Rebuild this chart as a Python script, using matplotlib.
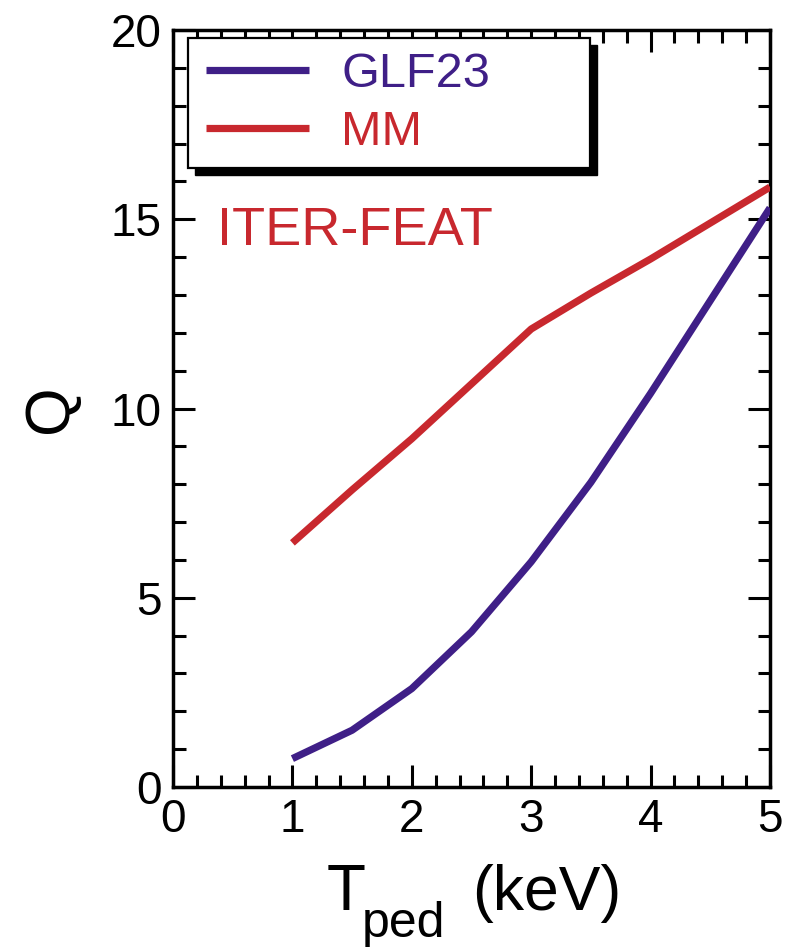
import matplotlib
matplotlib.use("Agg")
import matplotlib.pyplot as plt
from matplotlib.ticker import MultipleLocator
from matplotlib.patches import Rectangle

plt.rcParams['font.family'] = ['Liberation Sans', 'DejaVu Sans']

T_ped = [1.0, 1.5, 2.0, 2.5, 3.0, 3.5, 4.0, 4.5, 5.0]
Q_glf23 = [0.75, 1.5, 2.6, 4.1, 5.95, 8.05, 10.4, 12.85, 15.3]
Q_mm = [6.45, 7.85, 9.2, 10.65, 12.1, 13.05, 13.95, 14.9, 15.85]

col_glf = '#3f1f87'
col_mm = '#c8282e'

W, H = 786, 949
fig = plt.figure(figsize=(W/100, H/100), dpi=100)
L, R, T, B = 173, 770, 30, 787
ax = fig.add_axes([L/W, 1 - B/H, (R-L)/W, (B-T)/H])

ax.plot(T_ped, Q_glf23, color=col_glf, lw=5.2, label='GLF23', solid_capstyle='butt', zorder=3)
ax.plot(T_ped, Q_mm, color=col_mm, lw=5.2, label='MM', solid_capstyle='butt', zorder=3)

ax.set_xlim(0, 5)
ax.set_ylim(0, 20)
ax.xaxis.set_major_locator(MultipleLocator(1))
ax.xaxis.set_minor_locator(MultipleLocator(0.2))
ax.yaxis.set_major_locator(MultipleLocator(5))
ax.yaxis.set_minor_locator(MultipleLocator(1))
ax.tick_params(which='both', direction='in', top=True, right=True, width=2.2)
ax.tick_params(which='major', length=16, labelsize=33, pad=8)
ax.tick_params(which='minor', length=9)
for s in ax.spines.values():
    s.set_linewidth(2.5)

ax.set_ylabel('Q', fontsize=45, labelpad=22)

# x-axis label built from pieces (T with lowered subscript)
fig.text(327/W, 1 - 910/H, 'T', fontsize=46, ha='left', va='baseline')
fig.text(362/W, 1 - 937/H, 'ped', fontsize=36, ha='left', va='baseline')
fig.text(472/W, 1 - 910/H, '(keV)', fontsize=45, ha='left', va='baseline')

# legend frame with shadow
pw, ph = R - L, B - T
x0 = (188 - L) / pw
x1 = (590 - L) / pw
y1 = (B - 38) / ph
y0 = (B - 168) / ph
dx, dy = 7 / pw, 7 / ph
ax.add_patch(Rectangle((x0 + dx, y0 - dy), x1 - x0, y1 - y0, transform=ax.transAxes,
                       facecolor='black', edgecolor='black', zorder=4))
ax.add_patch(Rectangle((x0, y0), x1 - x0, y1 - y0, transform=ax.transAxes,
                       facecolor='white', edgecolor='black', lw=1.6, zorder=5))

leg = ax.legend(loc='upper left', bbox_to_anchor=((206 - L) / pw, (B - 52) / ph),
                fontsize=35, handlelength=2.12, handletextpad=0.66, borderpad=0,
                borderaxespad=0, labelspacing=0.26, frameon=False)
leg.set_zorder(6)
for t, c in zip(leg.get_texts(), [col_glf, col_mm]):
    t.set_color(c)
for h in leg.get_lines():
    h.set_linewidth(5.2)

ax.text((217 - L) / pw, (B - 245) / ph, 'ITER-FEAT', transform=ax.transAxes, fontsize=39,
        color=col_mm, ha='left', va='baseline')

fig.savefig('out.png', dpi=100)
